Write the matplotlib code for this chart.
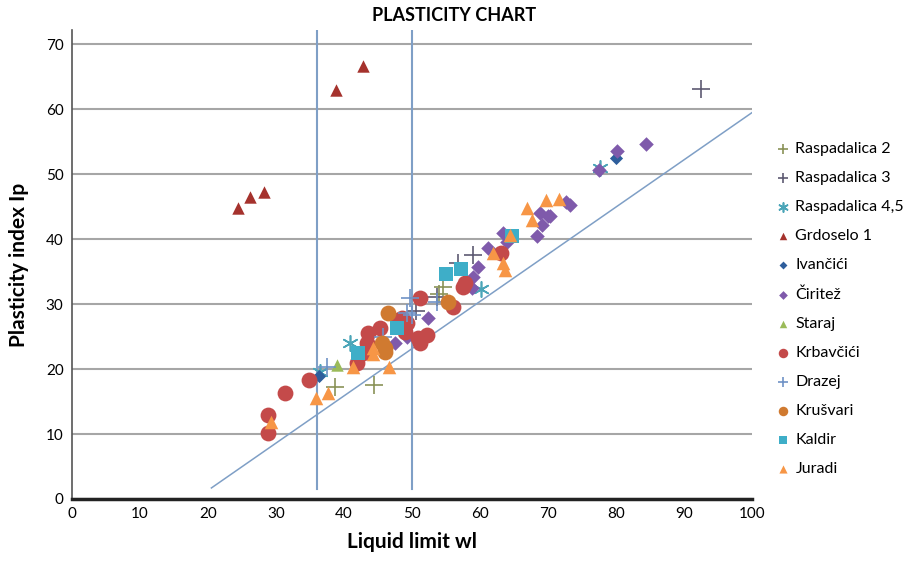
import matplotlib.pyplot as plt

plt.rcParams['font.family'] = ['Lato', 'DejaVu Sans']

# series data (liquid limit wl, plasticity index Ip)
rasp2_x = [38.7, 44.4, 54.6, 53.9]
rasp2_y = [17.2, 17.5, 32.6, 31.6]

rasp3_x = [92.4, 59.0, 56.8, 53.7, 50.5]
rasp3_y = [63.1, 37.5, 36.3, 31.1, 29.0]

rasp45_x = [60.1, 40.9, 36.5, 77.6]
rasp45_y = [32.3, 24.0, 19.5, 50.9]

grdoselo_x = [24.4, 26.2, 28.2, 38.8, 42.8]
grdoselo_y = [44.8, 46.5, 47.2, 62.9, 66.6]

ivancici_x = [36.3, 80.0]
ivancici_y = [18.9, 52.5]

ciritez_x = [84.3, 80.1, 77.4, 73.2, 72.6, 70.3, 68.8, 70.0, 69.1, 68.4,
             63.4, 63.9, 61.2, 59.7, 59.0, 58.8, 52.4, 47.5, 49.3]
ciritez_y = [54.6, 53.5, 50.6, 45.2, 45.7, 43.5, 44.0, 43.5, 42.2, 40.5,
             40.9, 39.5, 38.6, 35.7, 34.2, 32.5, 27.8, 24.0, 25.0]

staraj_x = [39.0]
staraj_y = [20.6]

krbavcici_x = [28.8, 28.8, 31.3, 34.9, 43.5, 45.3, 47.9, 49.3, 49.0, 50.9,
               52.2, 51.2, 51.2, 43.4, 42.8, 41.9, 57.5, 57.8, 56.0, 63.0, 48.5]
krbavcici_y = [10.2, 12.9, 16.3, 18.3, 25.5, 26.3, 27.5, 27.1, 25.7, 24.8,
               25.2, 24.0, 30.9, 24.0, 22.5, 20.9, 32.6, 33.2, 29.5, 37.8, 27.8]

drazej_x = [37.5, 49.7, 50.0, 45.7, 53.7, 49.2]
drazej_y = [20.3, 31.0, 28.3, 24.9, 30.3, 28.6]

krusvari_x = [46.5, 46.0, 46.0, 55.3, 45.5]
krusvari_y = [28.6, 23.2, 22.6, 30.3, 24.0]

kaldir_x = [42.1, 47.8, 55.0, 57.2, 64.7]
kaldir_y = [22.5, 26.3, 34.6, 35.4, 40.5]

juradi_x = [29.2, 35.9, 37.6, 41.3, 44.3, 44.2, 46.6, 64.4, 61.9, 63.4,
            63.7, 66.9, 67.6, 69.7, 71.6]
juradi_y = [11.9, 15.5, 16.3, 20.3, 23.2, 22.3, 20.3, 40.6, 37.8, 36.3,
            35.2, 44.8, 42.9, 46.0, 46.2]

# reference lines
aline_x = [20.5, 100]
aline_y = [1.7, 59.5]
vline_x = [36, 50]
vline_y = [1.5, 72.2]

fig = plt.figure(figsize=(9.22, 5.63), dpi=100)
ax = fig.add_axes([0.078, 0.1137, 0.738, 0.8333])

line_col = '#7f9fc6'
ax.plot(aline_x, aline_y, color=line_col, lw=1.1, zorder=2)
for vx in vline_x:
    ax.plot([vx, vx], vline_y, color=line_col, lw=1.5, zorder=2)

series = [
    ('Raspadalica 2', rasp2_x, rasp2_y, '+', '#8a9257', 150),
    ('Raspadalica 3', rasp3_x, rasp3_y, '+', '#5d5a72', 150),
    ('Raspadalica 4,5', rasp45_x, rasp45_y, (6, 2, 0), '#4ba5b8', 120),
    ('Grdoselo 1', grdoselo_x, grdoselo_y, '^', '#a5322d', 80),
    ('Ivančići', ivancici_x, ivancici_y, 'D', '#2e5e9c', 45),
    ('Čiritež', ciritez_x, ciritez_y, 'D', '#7f5aab', 55),
    ('Staraj', staraj_x, staraj_y, '^', '#9bbb59', 80),
    ('Krbavčići', krbavcici_x, krbavcici_y, 'o', '#c44a4a', 130),
    ('Drazej', drazej_x, drazej_y, '+', '#6f92c6', 150),
    ('Krušvari', krusvari_x, krusvari_y, 'o', '#d07a30', 130),
    ('Kaldir', kaldir_x, kaldir_y, 's', '#3eaec8', 95),
    ('Juradi', juradi_x, juradi_y, '^', '#f79646', 95),
]

handles = []
for i, (name, xs, ys, mk, col, sz) in enumerate(series):
    lw = 1.2 if mk in ('+', (6, 2, 0)) else 0
    h = ax.scatter(xs, ys, marker=mk, s=sz, color=col, linewidths=lw,
                   zorder=3 + i, label=name)
    handles.append(h)

ax.set_xlim(0, 100)
ax.set_ylim(0, 72.2)
ax.set_xticks(range(0, 101, 10))
ax.set_yticks(range(0, 71, 10))
ax.yaxis.grid(True, color='#a6a6a6', lw=1.5)
ax.set_axisbelow(True)
ax.tick_params(length=0, labelsize=11, pad=6)
for s in ('top', 'right'):
    ax.spines[s].set_visible(False)
ax.spines['bottom'].set_linewidth(2.5)
ax.spines['bottom'].set_color('#222222')
ax.spines['left'].set_linewidth(1.2)
ax.spines['left'].set_color('#555555')

ax.set_xlabel('Liquid limit wl', fontsize=15, fontweight='bold', labelpad=8)
ax.set_ylabel('Plasticity index Ip', fontsize=15, fontweight='bold', labelpad=12)
fig.text(0.492, 0.972, 'PLASTICITY CHART', ha='center', va='center',
         fontsize=13, fontweight='bold')

fig.legend(handles=handles, loc='upper left', bbox_to_anchor=(0.835, 0.759),
           frameon=False, fontsize=11.5, labelspacing=0.93, handlelength=0.8,
           handletextpad=0.4, markerscale=0.6, borderaxespad=0)

fig.savefig('out.png', dpi=100)
